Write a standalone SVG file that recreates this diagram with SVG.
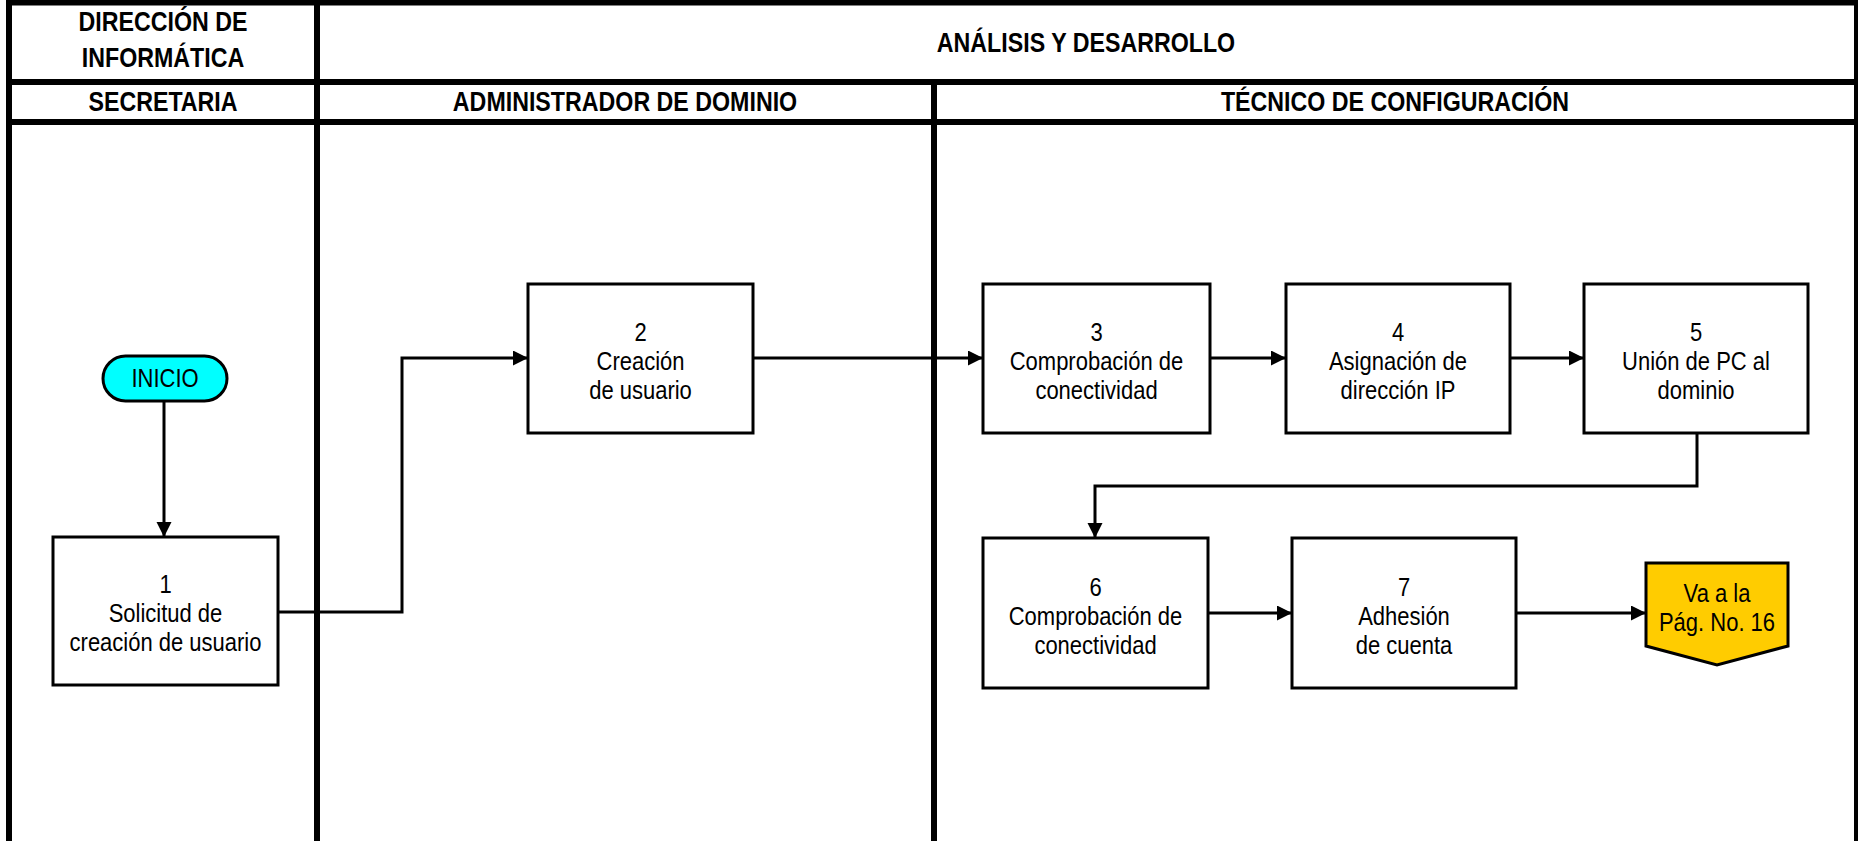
<svg xmlns="http://www.w3.org/2000/svg" width="1858" height="841" viewBox="0 0 1858 841">
  <style>
    .lane { stroke: #000; stroke-width: 6; fill: none; }
    .box { fill: #fff; stroke: #000; stroke-width: 3; }
    .edge { stroke: #000; stroke-width: 3; fill: none; }
    .hdr { font-family: "Liberation Sans", Arial, sans-serif; font-weight: bold; font-size: 27px; fill: #000; text-anchor: middle; }
    .lbl { font-family: "Liberation Sans", Arial, sans-serif; font-size: 25px; fill: #000; text-anchor: middle; }
  </style>
  <defs>
    <marker id="arrow" markerUnits="userSpaceOnUse" markerWidth="16" markerHeight="16" refX="15" refY="7.5" orient="auto">
      <path d="M0,0 L15,7.5 L0,15 Z" fill="#000"/>
    </marker>
  </defs>

  <rect width="1858" height="841" fill="#fff"/>

  <!-- swimlane grid -->
  <g id="lanes">
    <line class="lane" x1="6" y1="2.5" x2="1858" y2="2.5" stroke-width="5"/>
    <line class="lane" x1="6" y1="82" x2="1858" y2="82"/>
    <line class="lane" x1="6" y1="122" x2="1858" y2="122"/>
    <line class="lane" x1="9" y1="0" x2="9" y2="841"/>
    <line class="lane" x1="317" y1="0" x2="317" y2="841"/>
    <line class="lane" x1="934" y1="82" x2="934" y2="841"/>
    <line class="lane" x1="1857" y1="0" x2="1857" y2="841" stroke-width="3"/>
  </g>

  <!-- lane headers (condensed with a horizontal scale) -->
  <g id="headers">
    <text class="hdr" transform="translate(163 0) scale(0.86 1)" y="31">DIRECCIÓN DE</text>
    <text class="hdr" transform="translate(163 0) scale(0.86 1)" y="67">INFORMÁTICA</text>
    <text class="hdr" transform="translate(1086 0) scale(0.86 1)" y="52">ANÁLISIS Y DESARROLLO</text>
    <text class="hdr" transform="translate(163 0) scale(0.86 1)" y="111">SECRETARIA</text>
    <text class="hdr" transform="translate(625 0) scale(0.86 1)" y="111">ADMINISTRADOR DE DOMINIO</text>
    <text class="hdr" transform="translate(1395 0) scale(0.86 1)" y="111">TÉCNICO DE CONFIGURACIÓN</text>
  </g>

  <!-- connectors -->
  <g id="connectors">
    <line class="edge" x1="164" y1="401" x2="164" y2="537" marker-end="url(#arrow)"/>
    <polyline class="edge" points="278,612 402,612 402,358 528,358" marker-end="url(#arrow)"/>
    <line class="edge" x1="753" y1="358" x2="983" y2="358" marker-end="url(#arrow)"/>
    <line class="edge" x1="1210" y1="358" x2="1286" y2="358" marker-end="url(#arrow)"/>
    <line class="edge" x1="1510" y1="358" x2="1584" y2="358" marker-end="url(#arrow)"/>
    <polyline class="edge" points="1697,434 1697,486 1095,486 1095,538" marker-end="url(#arrow)"/>
    <line class="edge" x1="1208" y1="613" x2="1292" y2="613" marker-end="url(#arrow)"/>
    <line class="edge" x1="1516" y1="613" x2="1646" y2="613" marker-end="url(#arrow)"/>
  </g>

  <g id="inicio">
    <rect x="103" y="356" width="124" height="45" rx="22.5" fill="#00FFFF" stroke="#000" stroke-width="3"/>
    <text class="lbl" transform="translate(165 0) scale(0.88 1)" y="387">INICIO</text>
  </g>

  <g id="n1">
    <rect class="box" x="53" y="537" width="225" height="148"/>
    <g transform="translate(165.5 0) scale(0.88 1)">
      <text class="lbl" y="593">1</text>
      <text class="lbl" y="622">Solicitud de</text>
      <text class="lbl" y="651">creación de usuario</text>
    </g>
  </g>

  <g id="n2">
    <rect class="box" x="528" y="284" width="225" height="149"/>
    <g transform="translate(640.5 0) scale(0.88 1)">
      <text class="lbl" y="341">2</text>
      <text class="lbl" y="370">Creación</text>
      <text class="lbl" y="399">de usuario</text>
    </g>
  </g>

  <g id="n3">
    <rect class="box" x="983" y="284" width="227" height="149"/>
    <g transform="translate(1096.5 0) scale(0.88 1)">
      <text class="lbl" y="341">3</text>
      <text class="lbl" y="370">Comprobación de</text>
      <text class="lbl" y="399">conectividad</text>
    </g>
  </g>

  <g id="n4">
    <rect class="box" x="1286" y="284" width="224" height="149"/>
    <g transform="translate(1398 0) scale(0.88 1)">
      <text class="lbl" y="341">4</text>
      <text class="lbl" y="370">Asignación de</text>
      <text class="lbl" y="399">dirección IP</text>
    </g>
  </g>

  <g id="n5">
    <rect class="box" x="1584" y="284" width="224" height="149"/>
    <g transform="translate(1696 0) scale(0.88 1)">
      <text class="lbl" y="341">5</text>
      <text class="lbl" y="370">Unión de PC al</text>
      <text class="lbl" y="399">dominio</text>
    </g>
  </g>

  <g id="n6">
    <rect class="box" x="983" y="538" width="225" height="150"/>
    <g transform="translate(1095.5 0) scale(0.88 1)">
      <text class="lbl" y="596">6</text>
      <text class="lbl" y="625">Comprobación de</text>
      <text class="lbl" y="654">conectividad</text>
    </g>
  </g>

  <g id="n7">
    <rect class="box" x="1292" y="538" width="224" height="150"/>
    <g transform="translate(1404 0) scale(0.88 1)">
      <text class="lbl" y="596">7</text>
      <text class="lbl" y="625">Adhesión</text>
      <text class="lbl" y="654">de cuenta</text>
    </g>
  </g>

  <g id="offpage">
    <polygon points="1646,563 1788,563 1788,646 1717,665 1646,646" fill="#FFCC00" stroke="#000" stroke-width="3"/>
    <g transform="translate(1717 0) scale(0.88 1)">
      <text class="lbl" y="602">Va a la</text>
      <text class="lbl" y="631">Pág. No. 16</text>
    </g>
  </g>
</svg>
